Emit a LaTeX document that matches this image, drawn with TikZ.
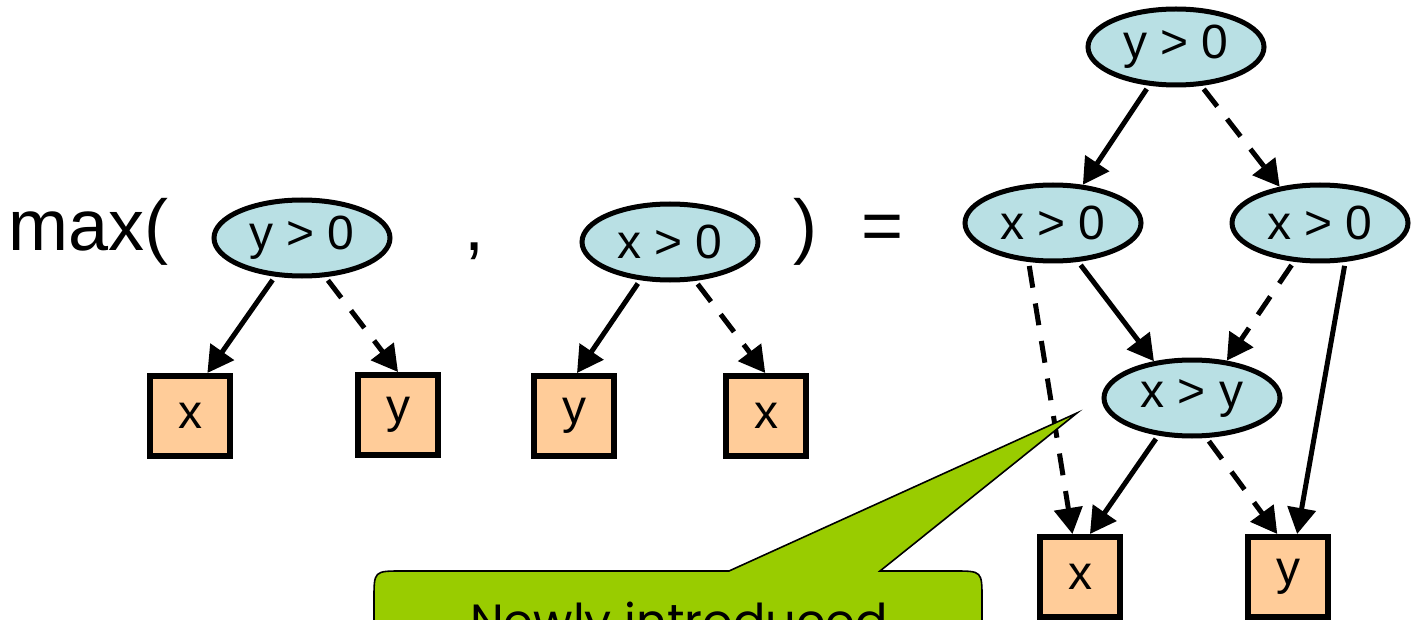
\documentclass[tikz,border=0pt]{standalone}
\usepackage{fontspec}
\setmainfont{Liberation Sans}
\newfontfamily\notefont{Poppins}
\usetikzlibrary{arrows.meta,shapes.geometric}
\definecolor{condfill}{RGB}{185,224,228}
\definecolor{leaffill}{RGB}{255,204,153}
\definecolor{notefill}{RGB}{153,204,0}

\begin{document}
\begin{tikzpicture}[x=0.5pt,y=-0.5pt,
  cond/.style={ellipse, draw, line width=2.5pt, fill=condfill,
    minimum width=88pt, minimum height=38pt, inner sep=0pt,
    font=\fontsize{24}{24}\selectfont},
  leaf/.style={rectangle, draw, line width=3pt, fill=leaffill,
    minimum size=40pt, inner sep=0pt, font=\fontsize{24}{24}\selectfont},
  edge/.style={line width=2.5pt, -{Triangle[length=13pt,width=14pt]},
    shorten <=2pt},
  hi/.style={edge},
  lo/.style={edge, dash pattern=on 11pt off 8pt},
  big/.style={font=\fontsize{36}{36}\selectfont, inner sep=0pt},
]
\clip (0,0) rectangle (1418,620);
\fill[white] (0,0) rectangle (1418,620);

% the formula around the two operands
\node[big, anchor=base west] (fn) at (8,250) {max(};
\node[big, anchor=base] (comma) at (474,250) {,};
\node[big, anchor=base] (rp) at (805,250) {)};
\node[big, anchor=base] (eq) at (883,250) {=};

% first operand
\node[cond] (a) at (302,238) {y > 0};
\node[leaf] (ax) at (190,416) {x};
\node[leaf] (ay) at (398,415) {y};
\draw[hi] (a.-125) -- (ax.68);
\draw[lo] (a.-59) -- (ay.90);

% second operand
\node[cond] (b) at (670,242) {x > 0};
\node[leaf] (by) at (574,416) {y};
\node[leaf] (bx) at (766,416) {x};
\draw[hi] (b.-128) -- (by.86);
\draw[lo] (b.-57) -- (bx.91);

% result diagram
\node[cond] (t) at (1176,47) {y > 0};
\node[cond] (l) at (1053,223) {x > 0};
\node[cond] (r) at (1320,223) {x > 0};
\node[cond] (m) at (1192,398) {x > y};
\node[leaf] (fx) at (1080,577) {x};
\node[leaf] (fy) at (1288,577) {y};
\draw[hi] (t.-125) -- (l.52);
\draw[lo] (t.-57) -- (r.138);
\draw[hi] (l.-57) -- (m.136);
\draw[lo] (l.-122) -- (fx.100);
\draw[lo] (r.-124) -- (m.47);
\draw[hi] (r.-57) -- (fy.78);
\draw[hi] (m.-132) -- (fx.77);
\draw[lo] (m.-70) -- (fy.104);

% callout pointing at the new test
\coordinate (tip) at (1077,413);
\filldraw[fill=notefill, line width=0.8pt, line join=miter]
  (374,760) -- (374,599) .. controls (374,571) .. (402,571)
  -- (729,571) -- (tip) -- (880,571)
  -- (954,571) .. controls (982,571) .. (982,599) -- (982,760) -- cycle;
\node[font=\notefont\fontsize{24}{24}\selectfont, anchor=base, inner sep=0pt]
  (note) at (679,638) {Newly introduced};
\end{tikzpicture}
\end{document}
